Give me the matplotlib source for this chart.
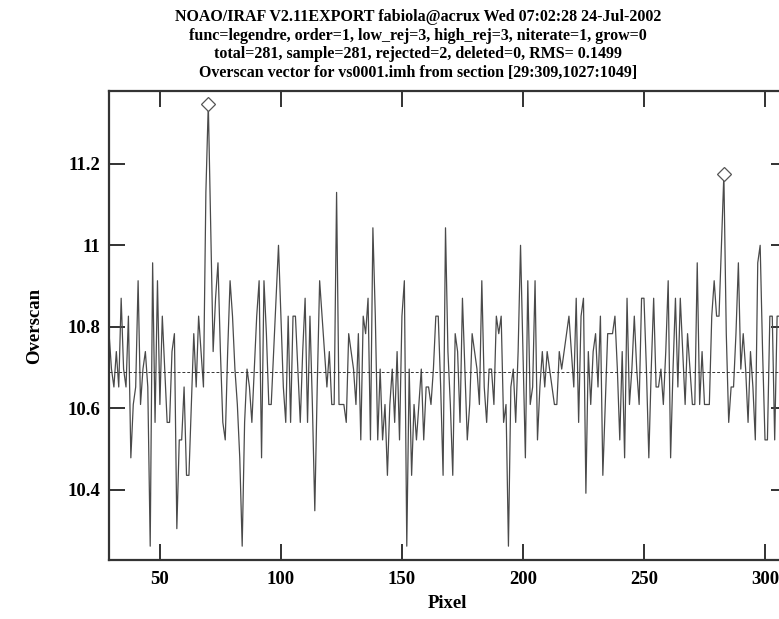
import numpy as np
import matplotlib
matplotlib.use("Agg")
import matplotlib.pyplot as plt
from matplotlib.ticker import FuncFormatter

# overscan vector, one value per pixel starting at pixel 29
first_pixel = 29
overscan = [
    10.783, 10.696, 10.652, 10.739, 10.652, 10.870, 10.696, 10.652, 10.826, 10.478,  # 29-38
    10.609, 10.652, 10.913, 10.609, 10.696, 10.739, 10.652, 10.261, 10.957, 10.565,  # 39-48
    10.913, 10.609, 10.826, 10.696, 10.565, 10.565, 10.739, 10.783, 10.304, 10.522,  # 49-58
    10.522, 10.652, 10.435, 10.435, 10.609, 10.783, 10.652, 10.826, 10.739, 10.652,  # 59-68
    11.130, 11.348, 11.043, 10.739, 10.870, 10.957, 10.739, 10.565, 10.522, 10.739,  # 69-78
    10.913, 10.826, 10.696, 10.609, 10.478, 10.261, 10.565, 10.696, 10.652, 10.565,  # 79-88
    10.696, 10.826, 10.913, 10.478, 10.913, 10.783, 10.609, 10.609, 10.739, 10.870,  # 89-98
    11.000, 10.826, 10.652, 10.565, 10.826, 10.565, 10.826, 10.826, 10.696, 10.565,  # 99-108
    10.739, 10.870, 10.565, 10.826, 10.609, 10.348, 10.652, 10.913, 10.826, 10.739,  # 109-118
    10.652, 10.739, 10.609, 10.609, 11.130, 10.609, 10.609, 10.609, 10.565, 10.783,  # 119-128
    10.739, 10.696, 10.609, 10.783, 10.522, 10.826, 10.783, 10.870, 10.522, 11.043,  # 129-138
    10.826, 10.522, 10.696, 10.522, 10.609, 10.435, 10.609, 10.696, 10.565, 10.739,  # 139-148
    10.522, 10.826, 10.913, 10.261, 10.696, 10.435, 10.609, 10.522, 10.609, 10.696,  # 149-158
    10.522, 10.652, 10.652, 10.609, 10.696, 10.826, 10.826, 10.652, 10.435, 11.043,  # 159-168
    10.739, 10.609, 10.435, 10.783, 10.739, 10.565, 10.870, 10.696, 10.522, 10.609,  # 169-178
    10.783, 10.739, 10.696, 10.609, 10.913, 10.652, 10.565, 10.696, 10.696, 10.609,  # 179-188
    10.826, 10.783, 10.826, 10.565, 10.609, 10.261, 10.652, 10.696, 10.565, 10.739,  # 189-198
    11.000, 10.739, 10.478, 10.913, 10.609, 10.652, 10.913, 10.522, 10.652, 10.739,  # 199-208
    10.652, 10.739, 10.696, 10.652, 10.609, 10.609, 10.739, 10.696, 10.739, 10.783,  # 209-218
    10.826, 10.739, 10.652, 10.870, 10.565, 10.826, 10.870, 10.391, 10.739, 10.609,  # 219-228
    10.739, 10.783, 10.652, 10.826, 10.435, 10.609, 10.783, 10.783, 10.783, 10.826,  # 229-238
    10.696, 10.522, 10.739, 10.478, 10.870, 10.609, 10.696, 10.826, 10.696, 10.609,  # 239-248
    10.870, 10.870, 10.696, 10.478, 10.696, 10.870, 10.652, 10.652, 10.696, 10.609,  # 249-258
    10.739, 10.913, 10.478, 10.696, 10.870, 10.652, 10.870, 10.739, 10.609, 10.783,  # 259-268
    10.696, 10.609, 10.609, 10.957, 10.609, 10.739, 10.609, 10.609, 10.609, 10.826,  # 269-278
    10.913, 10.826, 10.826, 11.000, 11.174, 10.783, 10.565, 10.652, 10.652, 10.783,  # 279-288
    10.957, 10.696, 10.783, 10.696, 10.565, 10.739, 10.652, 10.522, 10.957, 11.000,  # 289-298
    10.739, 10.522, 10.522, 10.826, 10.826, 10.522, 10.826, 10.826, 10.609, 10.696,  # 299-308
    10.739,                                                                          # 309
]
rejected_pixels = [70, 283]
fit_level = 10.69

pixels = np.arange(first_pixel, first_pixel + len(overscan))
overscan = np.array(overscan)

plt.rcParams['font.family'] = ['Liberation Serif', 'DejaVu Serif']
plt.rcParams['font.weight'] = 'bold'

fig = plt.figure(figsize=(7.79, 6.19), dpi=100)
# the right part of the plot runs off the picture, as in the original
ax = fig.add_axes([0.140, 0.0953, 0.870, 0.757])

ax.plot(pixels, overscan, color='#4a4a4a', linewidth=0.9)
ax.axhline(fit_level, color='#333333', linewidth=0.7, linestyle=(0, (3, 2)))

rej = np.isin(pixels, rejected_pixels)
ax.plot(pixels[rej], overscan[rej], linestyle='none', marker='D', markersize=7,
        markerfacecolor='white', markeredgecolor='#555555', markeredgewidth=0.9)

ax.set_xlim(29, 309)
ax.set_ylim(10.227, 11.378)
ax.set_xticks([50, 100, 150, 200, 250, 300])
ax.set_yticks([10.4, 10.6, 10.8, 11.0, 11.2])
ax.yaxis.set_major_formatter(FuncFormatter(lambda v, p: '%g' % round(v, 2)))
ax.tick_params(direction='in', length=11.5, width=1.3, top=True, right=True,
               labelsize=13.5, color='#222222')
ax.tick_params(axis='x', pad=8)
ax.tick_params(axis='y', pad=6)
for lab in ax.get_xticklabels() + ax.get_yticklabels():
    lab.set_fontweight('bold')
for sp in ax.spines.values():
    sp.set_linewidth(1.6)
    sp.set_color('#333333')

ax.set_xlabel('Pixel', fontsize=13.5, fontweight='bold', labelpad=5)
ax.set_ylabel('Overscan', fontsize=13.5, fontweight='bold', labelpad=18)

title_lines = [
    'NOAO/IRAF V2.11EXPORT fabiola@acrux Wed 07:02:28 24-Jul-2002',
    'func=legendre, order=1, low_rej=3, high_rej=3, niterate=1, grow=0',
    'total=281, sample=281, rejected=2, deleted=0, RMS= 0.1499',
    'Overscan vector for vs0001.imh from section [29:309,1027:1049]',
]
fig.text(0.537, 0.985, '\n'.join(title_lines), ha='center', va='top',
         fontsize=11.5, fontweight='bold', linespacing=1.2)

fig.savefig('out.png', dpi=100)
